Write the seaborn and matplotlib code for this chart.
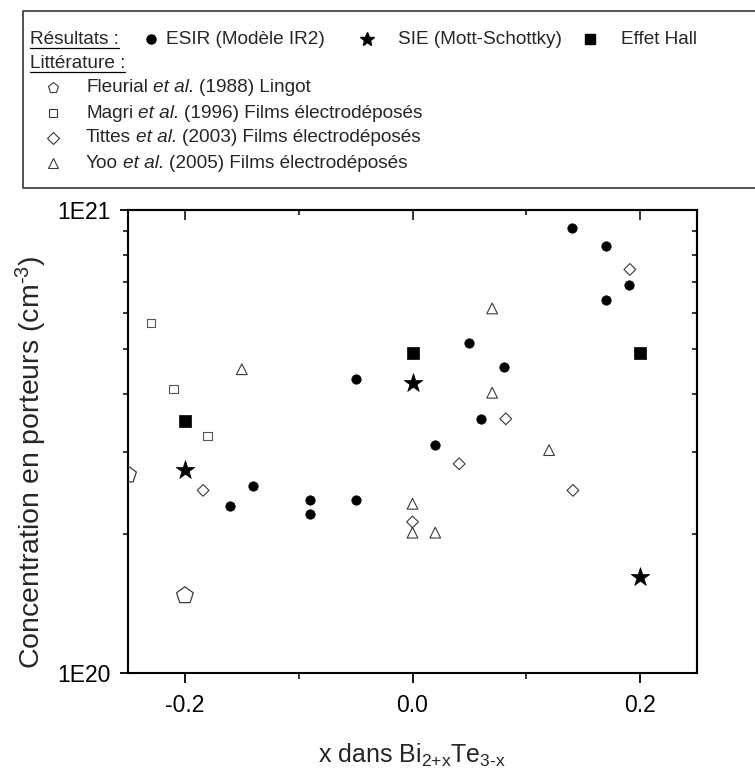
import numpy as np
import matplotlib
matplotlib.use("Agg")
import matplotlib.pyplot as plt
import matplotlib.ticker as mticker
import seaborn as sns

# --- données ---
esir_x = [-0.16, -0.14, -0.09, -0.09, -0.05, -0.05, 0.02, 0.05, 0.06, 0.08, 0.14, 0.17, 0.17, 0.19]
esir_y = [2.30e20, 2.54e20, 2.36e20, 2.21e20, 2.36e20, 4.31e20, 3.11e20, 5.16e20, 3.54e20, 4.57e20,
          9.16e20, 8.38e20, 6.39e20, 6.90e20]

sie_x = [-0.2, 0.0, 0.2]
sie_y = [2.75e20, 4.22e20, 1.61e20]

hall_x = [-0.2, 0.0, 0.2]
hall_y = [3.51e20, 4.90e20, 4.90e20]

fleurial_x = [-0.25, -0.2]
fleurial_y = [2.68e20, 1.47e20]

magri_x = [-0.23, -0.21, -0.18]
magri_y = [5.71e20, 4.10e20, 3.25e20]

tittes_x = [-0.184, 0.0, 0.041, 0.082, 0.141, 0.191]
tittes_y = [2.48e20, 2.12e20, 2.83e20, 3.54e20, 2.48e20, 7.44e20]

yoo_x = [-0.15, 0.0, 0.0, 0.02, 0.07, 0.07, 0.12]
yoo_y = [4.53e20, 2.32e20, 2.01e20, 2.01e20, 6.13e20, 4.03e20, 3.03e20]

x_ticks = [-0.2, 0.0, 0.2]
x_ticklabels = ["-0.2", "0.0", "0.2"]

sns.set_style("ticks")
plt.rcParams["font.family"] = ["Liberation Sans", "DejaVu Sans"]
plt.rcParams["mathtext.fontset"] = "custom"
plt.rcParams["mathtext.rm"] = "Liberation Sans"
plt.rcParams["mathtext.it"] = "Liberation Sans:italic"
plt.rcParams["mathtext.bf"] = "Liberation Sans:bold"

W, H = 755, 772
fig = plt.figure(figsize=(W / 100, H / 100), dpi=100)

# axe principal
ax = fig.add_axes([128 / W, 1 - 673 / H, 569 / W, 463 / H])

open_ec = "#3a3a3a"
sns.scatterplot(x=magri_x, y=magri_y, marker="s", s=36, color=open_ec, facecolor="none",
                edgecolor="#555555", linewidth=0.8, ax=ax, zorder=3)
sns.scatterplot(x=tittes_x, y=tittes_y, marker="D", s=36, color=open_ec, facecolor="none",
                edgecolor=open_ec, linewidth=0.8, ax=ax, zorder=3)
sns.scatterplot(x=yoo_x, y=yoo_y, marker="^", s=60, color=open_ec, facecolor="none",
                edgecolor=open_ec, linewidth=0.8, ax=ax, zorder=3)
sns.scatterplot(x=fleurial_x, y=fleurial_y, marker="p", s=160, color=open_ec, facecolor="none",
                edgecolor=open_ec, linewidth=0.9, ax=ax, zorder=3)
sns.scatterplot(x=esir_x, y=esir_y, marker="o", s=46, color="black", edgecolor="black",
                linewidth=0.5, ax=ax, zorder=4)
sns.scatterplot(x=sie_x, y=sie_y, marker="*", s=200, color="black", edgecolor="black",
                linewidth=0.5, ax=ax, zorder=4)
sns.scatterplot(x=hall_x, y=hall_y, marker="s", s=76, color="black", edgecolor="black",
                linewidth=0.5, ax=ax, zorder=4)

ax.set_yscale("log")
ax.set_xlim(-0.25, 0.25)
ax.set_ylim(1e20, 1e21)

ax.set_xticks(x_ticks)
ax.set_xticklabels(x_ticklabels)
ax.xaxis.set_minor_locator(mticker.MultipleLocator(0.1))
ax.yaxis.set_major_locator(mticker.FixedLocator([1e20, 1e21]))
ax.yaxis.set_major_formatter(mticker.FuncFormatter(lambda v, p: "1E%d" % round(np.log10(v))))
ax.yaxis.set_minor_locator(mticker.LogLocator(base=10, subs=np.arange(2, 10)))
ax.yaxis.set_minor_formatter(mticker.NullFormatter())

for sp in ax.spines.values():
    sp.set_linewidth(1.5)
    sp.set_color("black")

ax.tick_params(axis="x", which="major", direction="out", length=7, width=1.3,
               labelsize=16.5, pad=8, colors="black", bottom=True, top=False)
ax.tick_params(axis="x", which="minor", direction="out", length=4, width=1.3, bottom=True, top=False)
ax.tick_params(axis="y", which="major", direction="out", length=5.5, width=1.3,
               labelsize=16.5, pad=7, colors="black", left=True, right=False)
ax.tick_params(axis="y", which="minor", direction="out", length=3.5, width=1.3, left=True, right=False)

# ticks internes en haut et à droite
top = ax.secondary_xaxis("top")
top.set_xticks(x_ticks)
top.xaxis.set_minor_locator(mticker.MultipleLocator(0.1))
top.tick_params(axis="x", which="major", direction="in", length=7, width=1.3, labeltop=False, top=True)
top.tick_params(axis="x", which="minor", direction="in", length=3.5, width=1.3, top=True)
top.spines["top"].set_linewidth(1.5)

right = ax.secondary_yaxis("right")
right.yaxis.set_major_locator(mticker.FixedLocator([1e20, 1e21]))
right.yaxis.set_minor_locator(mticker.LogLocator(base=10, subs=np.arange(2, 10)))
right.yaxis.set_minor_formatter(mticker.NullFormatter())
right.tick_params(axis="y", which="major", direction="in", length=5.5, width=1.3, labelright=False, right=True)
right.tick_params(axis="y", which="minor", direction="in", length=3.5, width=1.3, right=True)
right.spines["right"].set_linewidth(1.5)

ax.set_xlabel(r"x dans Bi$_{\text{2+x}}$Te$_{\text{3-x}}$", fontsize=18)
ax.xaxis.set_label_coords(0.5, -0.148)
ax.set_ylabel(r"Concentration en porteurs (cm$^{\text{-3}}$)", fontsize=20.5)
ax.yaxis.set_label_coords(-0.139, 0.455)

# --- légende manuelle (coordonnées en pixels) ---
lax = fig.add_axes([0, 0, 1, 1], zorder=-1)
lax.set_xlim(0, W)
lax.set_ylim(H, 0)
lax.axis("off")
lax.plot([W + 5, 23, 23, W + 5], [11, 11, 188, 188], color="#444444", lw=1.3, clip_on=False)

fs = 13.7
t1 = lax.text(30, 39, "Résultats :", fontsize=fs, va="center", ha="left")
t2 = lax.text(30, 63, "Littérature :", fontsize=fs, va="center", ha="left")

lax.plot(151, 39, marker="o", ms=6.5, color="black", ls="none")
lax.text(166, 39, "ESIR (Modèle IR2)", fontsize=fs, va="center", ha="left")
lax.plot(367, 39, marker="*", ms=10, color="black", ls="none")
lax.text(398, 39, "SIE (Mott-Schottky)", fontsize=fs, va="center", ha="left")
lax.plot(590, 39, marker="s", ms=6.5, color="black", ls="none")
lax.text(621, 39, "Effet Hall", fontsize=fs, va="center", ha="left")

lit_markers = ["p", "s", "D", "^"]
lit_msizes = [8, 6, 6, 7]
lit_authors = ["Fleurial", "Magri", "Tittes", "Yoo"]
lit_rest = ["(1988) Lingot", "(1996) Films électrodéposés",
            "(2003) Films électrodéposés", "(2005) Films électrodéposés"]
row_y = [88, 113, 138, 163]

fig.canvas.draw()
r = fig.canvas.get_renderer()
inv = lax.transData.inverted()


def right_edge(t):
    bb = t.get_window_extent(r)
    return inv.transform((bb.x1, 0))[0]


for mk, ms, au, rest, yy in zip(lit_markers, lit_msizes, lit_authors, lit_rest, row_y):
    lax.plot(53, yy, marker=mk, ms=ms, mfc="none", mec=open_ec, mew=0.8, ls="none")
    ta = lax.text(86, yy, au, fontsize=fs, va="center", ha="left")
    tb = lax.text(right_edge(ta) + 5, yy, "et al.", fontsize=fs, va="center", ha="left", style="italic")
    lax.text(right_edge(tb) + 5, yy, rest, fontsize=fs, va="center", ha="left")

# soulignement des titres
for t, yy in [(t1, 48), (t2, 72)]:
    bb = t.get_window_extent(r)
    x0 = inv.transform((bb.x0, 0))[0]
    x1 = inv.transform((bb.x1, 0))[0]
    lax.plot([x0, x1], [yy, yy], color="black", lw=0.9)

fig.savefig("out.png", dpi=100)
